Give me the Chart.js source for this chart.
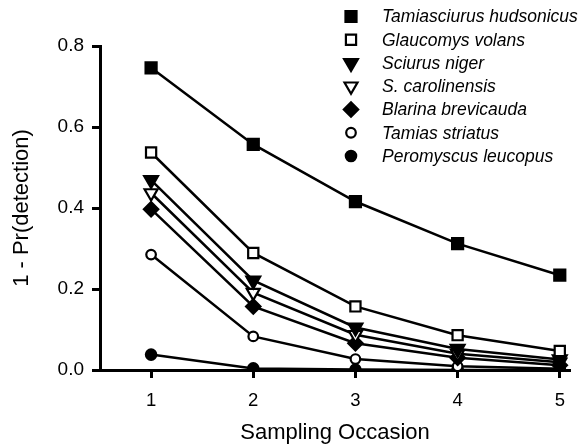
<!DOCTYPE html>
<html>
<head>
<meta charset="utf-8">
<script src="https://cdn.jsdelivr.net/npm/chart.js@4.4.0/dist/chart.umd.min.js"></script>
<style>
  html, body { margin: 0; padding: 0; background: #fff; }
</style>
</head>
<body>
<canvas id="chart" width="581" height="446"></canvas>
<script>
// sampling occasions and tick values
const occasions = [1, 2, 3, 4, 5];
const xTicks = [1, 2, 3, 4, 5];
const yTicks = [0, 0.2, 0.4, 0.6, 0.8];

const speciesNames = [
  'Tamiasciurus hudsonicus',
  'Glaucomys volans',
  'Sciurus niger',
  'S. carolinensis',
  'Blarina brevicauda',
  'Tamias striatus',
  'Peromyscus leucopus'
];

// 1 - Pr(detection)
const tamiasciurus = [0.746, 0.557, 0.416, 0.312, 0.234];
const glaucomys    = [0.537, 0.289, 0.157, 0.086, 0.047];
const sciurusNiger = [0.469, 0.221, 0.105, 0.052, 0.026];
const carolinensis = [0.437, 0.191, 0.087, 0.040, 0.019];
const blarina      = [0.397, 0.157, 0.066, 0.030, 0.012];
const tamias       = [0.285, 0.083, 0.027, 0.009, 0.003];
const peromyscus   = [0.038, 0.004, 0.001, 0.000, 0.000];

const seriesValues = [tamiasciurus, glaucomys, sciurusNiger, carolinensis, blarina, tamias, peromyscus];

// marker look per species
const markers = [
  { style: 'rect',     rot: 0,   fill: '#000', r: 7.8 },
  { style: 'rect',     rot: 0,   fill: '#fff', r: 7.2 },
  { style: 'triangle', rot: 180, fill: '#000', r: 8 },
  { style: 'triangle', rot: 180, fill: '#fff', r: 7.5 },
  { style: 'rectRot',  rot: 0,   fill: '#000', r: 7.2 },
  { style: 'circle',   rot: 0,   fill: '#fff', r: 4.8 },
  { style: 'circle',   rot: 0,   fill: '#000', r: 5.2 }
];

const FONT = "'Liberation Sans', Arial, Helvetica, sans-serif";

const datasets = seriesValues.map((vals, i) => ({
  label: speciesNames[i],
  data: vals.map((v, j) => ({ x: occasions[j], y: v })),
  borderColor: '#000',
  borderWidth: 2.5,
  tension: 0,
  fill: false,
  pointStyle: markers[i].style,
  pointRotation: markers[i].rot,
  pointRadius: markers[i].r,
  pointBackgroundColor: markers[i].fill,
  pointBorderColor: '#000',
  pointBorderWidth: 2.2
}));

// legend drawn top right, stacked
const sideLegend = {
  id: 'sideLegend',
  afterDraw(chart) {
    const ctx = chart.ctx;
    ctx.save();
    ctx.font = 'italic 17.5px ' + FONT;
    ctx.textBaseline = 'middle';
    ctx.textAlign = 'left';
    chart.data.datasets.forEach((ds, i) => {
      const y = 16.5 + i * 23.25;
      const m = markers[i];
      ctx.fillStyle = m.fill;
      ctx.strokeStyle = '#000';
      ctx.lineWidth = 2.2;
      Chart.helpers.drawPoint(ctx, {
        pointStyle: m.style, rotation: m.rot, radius: m.r, borderWidth: 2.2
      }, 351, y);
      ctx.fillStyle = '#000';
      ctx.fillText(ds.label, 382, y + 1);
    });
    ctx.restore();
  }
};

new Chart(document.getElementById('chart'), {
  type: 'line',
  data: { datasets },
  plugins: [sideLegend],
  options: {
    responsive: false,
    animation: false,
    layout: { padding: { top: 46, right: 11, left: 0, bottom: 0 } },
    plugins: { legend: { display: false }, tooltip: { enabled: false } },
    scales: {
      x: {
        type: 'linear', min: 0.5, max: 5.1,
        afterBuildTicks: ax => { ax.ticks = xTicks.map(v => ({ value: v })); },
        afterFit: s => { s.height = 76; },
        border: { color: '#000', width: 3 },
        grid: { drawOnChartArea: false, drawTicks: true, tickLength: 8, tickWidth: 3, tickColor: '#000' },
        ticks: { color: '#000', font: { family: FONT, size: 18.5 }, padding: 12, maxRotation: 0 },
        title: { display: true, text: 'Sampling Occasion', color: '#000',
                 font: { family: FONT, size: 22 }, padding: { top: 0, bottom: 0 } }
      },
      y: {
        min: 0, max: 0.8,
        afterBuildTicks: ax => { ax.ticks = yTicks.map(v => ({ value: v })); },
        afterFit: s => { s.width = 100; },
        border: { color: '#000', width: 3 },
        grid: { drawOnChartArea: false, drawTicks: true, tickLength: 8, tickWidth: 3, tickColor: '#000' },
        ticks: { color: '#000', font: { family: FONT, size: 19 }, padding: 8,
                 callback: v => v.toFixed(1) },
        title: { display: true, text: '1 - Pr(detection)', color: '#000',
                 font: { family: FONT, size: 22 }, padding: { top: 9, bottom: 0 } }
      }
    }
  }
});
</script>
</body>
</html>
